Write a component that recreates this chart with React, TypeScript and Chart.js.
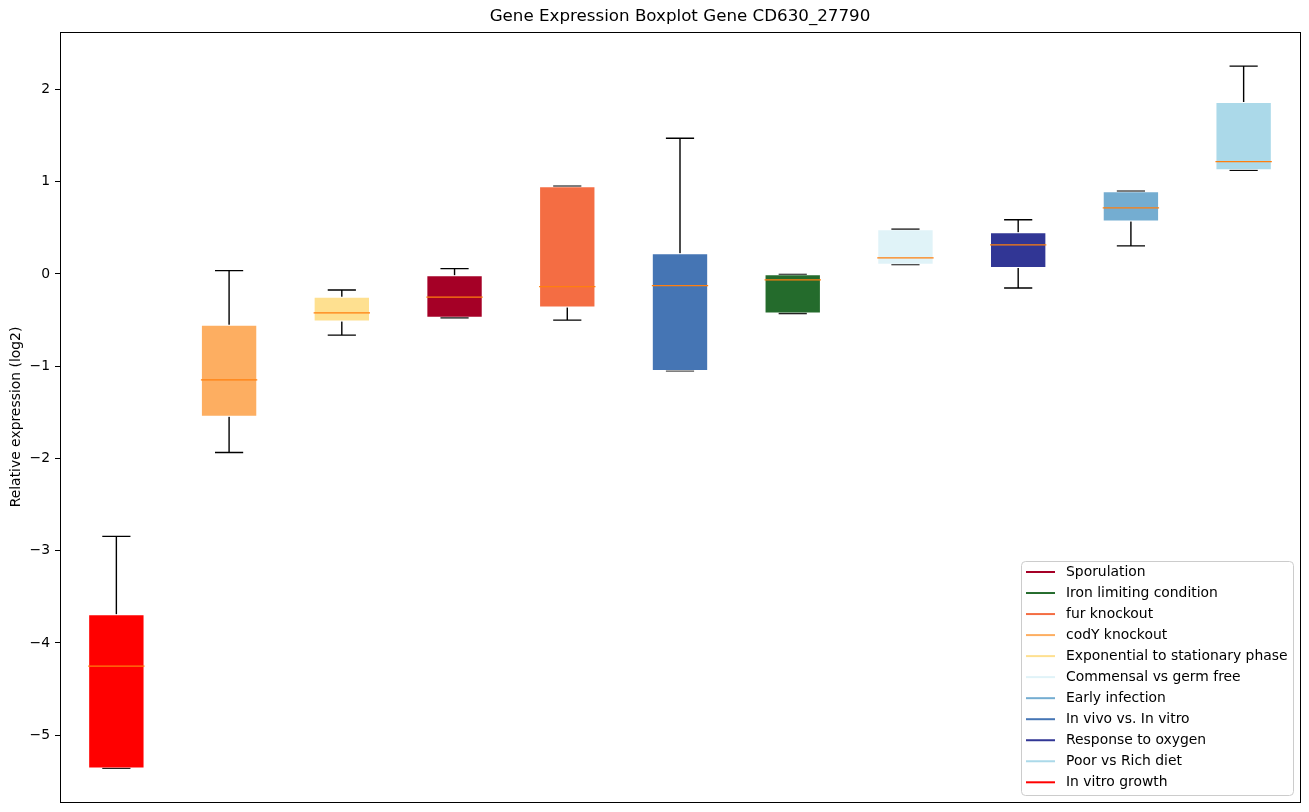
import React, { useEffect, useRef } from "react";
import { Chart, registerables } from "chart.js";

Chart.register(...registerables);

const categories = [
  "In vitro growth",
  "codY knockout",
  "Exponential to stationary phase",
  "Sporulation",
  "fur knockout",
  "In vivo vs. In vitro",
  "Iron limiting condition",
  "Commensal vs germ free",
  "Response to oxygen",
  "Early infection",
  "Poor vs Rich diet",
];
const whiskerLow = [-5.36, -1.935, -0.663, -0.475, -0.5, -1.051, -0.428, 0.101, -0.152, 0.304, 1.123];
const q1Values = [-5.36, -1.548, -0.515, -0.475, -0.363, -1.051, -0.428, 0.101, 0.065, 0.568, 1.123];
const medianValues = [-4.25, -1.149, -0.421, -0.25, -0.138, -0.127, -0.065, 0.174, 0.315, 0.717, 1.217];
const q3Values = [-3.69, -0.551, -0.247, -0.015, 0.952, 0.224, -0.004, 0.485, 0.452, 0.898, 1.865];
const whiskerHigh = [-2.845, 0.036, -0.174, 0.058, 0.952, 1.471, -0.004, 0.485, 0.587, 0.898, 2.253];
const boxColors = [
  "#ff0000",
  "#fdae61",
  "#fee090",
  "#a50026",
  "#f46d43",
  "#4575b4",
  "#246b2c",
  "#e0f3f8",
  "#313695",
  "#74add1",
  "#abd9e9",
];
const legendLabels = [
  "Sporulation",
  "Iron limiting condition",
  "fur knockout",
  "codY knockout",
  "Exponential to stationary phase",
  "Commensal vs germ free",
  "Early infection",
  "In vivo vs. In vitro",
  "Response to oxygen",
  "Poor vs Rich diet",
  "In vitro growth",
];
const legendColors = [
  "#a50026",
  "#246b2c",
  "#f46d43",
  "#fdae61",
  "#fee090",
  "#e0f3f8",
  "#74add1",
  "#4575b4",
  "#313695",
  "#abd9e9",
  "#ff0000",
];
const yTicks = [-5, -4, -3, -2, -1, 0, 1, 2];
const titleText = "Gene Expression Boxplot Gene CD630_27790";
const yLabel = "Relative expression (log2)";

const FONT = '"DejaVu Sans", sans-serif';

const boxPlugin = {
  id: "boxExtras",
  beforeDatasetsDraw(chart: any) {
    const ctx = chart.ctx;
    const xs = chart.scales.x;
    const ys = chart.scales.y;
    const catW = (chart.chartArea.right - chart.chartArea.left) / categories.length;
    ctx.save();
    ctx.strokeStyle = "#000";
    ctx.lineWidth = 1.4;
    categories.forEach((_, i) => {
      const cx = xs.getPixelForValue(i);
      const capHalf = catW * 0.125;
      const yLow = ys.getPixelForValue(whiskerLow[i]);
      const yHigh = ys.getPixelForValue(whiskerHigh[i]);
      const yQ1 = ys.getPixelForValue(q1Values[i]);
      const yQ3 = ys.getPixelForValue(q3Values[i]);
      ctx.beginPath();
      ctx.moveTo(cx, yQ1);
      ctx.lineTo(cx, yLow);
      ctx.moveTo(cx, yQ3);
      ctx.lineTo(cx, yHigh);
      ctx.moveTo(cx - capHalf, yLow);
      ctx.lineTo(cx + capHalf, yLow);
      ctx.moveTo(cx - capHalf, yHigh);
      ctx.lineTo(cx + capHalf, yHigh);
      ctx.stroke();
    });
    ctx.restore();
  },
  afterDatasetsDraw(chart: any) {
    const ctx = chart.ctx;
    const xs = chart.scales.x;
    const ys = chart.scales.y;
    const catW = (chart.chartArea.right - chart.chartArea.left) / categories.length;
    ctx.save();
    ctx.strokeStyle = "#ff7f0e";
    ctx.lineWidth = 1.3;
    categories.forEach((_, i) => {
      const cx = xs.getPixelForValue(i);
      const half = catW * 0.25;
      const y = ys.getPixelForValue(medianValues[i]);
      ctx.beginPath();
      ctx.moveTo(cx - half, y);
      ctx.lineTo(cx + half, y);
      ctx.stroke();
    });
    ctx.restore();
  },
  afterDraw(chart: any) {
    const ctx = chart.ctx;
    const a = chart.chartArea;
    ctx.save();
    // frame
    ctx.strokeStyle = "#000";
    ctx.lineWidth = 1;
    ctx.strokeRect(Math.round(a.left) + 0.5, Math.round(a.top) + 0.5, Math.round(a.right - a.left), Math.round(a.bottom - a.top));
    // title
    ctx.fillStyle = "#000";
    ctx.font = `16.7px ${FONT}`;
    ctx.textAlign = "center";
    ctx.textBaseline = "middle";
    ctx.fillText(titleText, (a.left + a.right) / 2, 17);
    // y label
    ctx.save();
    ctx.translate(16, (a.top + a.bottom) / 2);
    ctx.rotate(-Math.PI / 2);
    ctx.font = `13.9px ${FONT}`;
    ctx.fillText(yLabel, 0, 0);
    ctx.restore();
    // legend
    const lx = 1021.5, ly = 561.5, lw = 272, lh = 234;
    ctx.beginPath();
    ctx.roundRect(lx, ly, lw, lh, 4);
    ctx.fillStyle = "rgba(255,255,255,0.8)";
    ctx.fill();
    ctx.strokeStyle = "#cccccc";
    ctx.lineWidth = 1;
    ctx.stroke();
    ctx.font = `13.9px ${FONT}`;
    ctx.textAlign = "left";
    ctx.textBaseline = "middle";
    legendLabels.forEach((lab, i) => {
      const y = 572 + i * 21.03;
      ctx.strokeStyle = legendColors[i];
      ctx.lineWidth = 2;
      ctx.beginPath();
      ctx.moveTo(1026, y);
      ctx.lineTo(1055, y);
      ctx.stroke();
      ctx.fillStyle = "#000";
      ctx.fillText(lab, 1066, y + 0.5);
    });
    ctx.restore();
  },
};

export default function App() {
  const ref = useRef<HTMLCanvasElement | null>(null);
  useEffect(() => {
    if (!ref.current) return;
    const chart = new Chart(ref.current, {
      type: "bar",
      data: {
        labels: categories,
        datasets: [
          {
            label: "boxes",
            data: categories.map((_, i) => [q1Values[i], q3Values[i]]) as any,
            backgroundColor: boxColors,
            borderColor: "rgba(255,255,255,0.55)",
            borderWidth: 1,
            borderSkipped: false,
            categoryPercentage: 1,
            barPercentage: 0.5,
          },
        ],
      },
      options: {
        responsive: false,
        animation: false,
        layout: { padding: { left: 0, right: 9, top: 32, bottom: 10 } },
        plugins: {
          legend: { display: false },
          title: { display: false },
          tooltip: { enabled: false },
        },
        scales: {
          x: {
            type: "category",
            offset: true,
            display: false,
          },
          y: {
            type: "linear",
            min: -5.724,
            max: 2.623,
            afterFit: (scale: any) => {
              scale.width = 60;
              scale.paddingTop = 0;
              scale.paddingBottom = 0;
            },
            afterBuildTicks: (scale: any) => {
              scale.ticks = yTicks.map((v) => ({ value: v }));
            },
            border: { display: false },
            grid: {
              drawOnChartArea: false,
              drawTicks: true,
              tickLength: 5,
              color: "#000",
              lineWidth: 1,
            },
            ticks: {
              color: "#000",
              padding: 5,
              font: { family: FONT, size: 13.9 },
              callback: (v: any) => String(v).replace("-", "\u2212"),
            },
          },
        },
      },
      plugins: [boxPlugin],
    });
    return () => chart.destroy();
  }, []);
  return (
    <div style={{ position: "fixed", left: 0, top: 0, width: 1309, height: 812, background: "#fff" }}>
      <canvas ref={ref} width={1309} height={812} style={{ width: 1309, height: 812, display: "block" }} />
    </div>
  );
}
